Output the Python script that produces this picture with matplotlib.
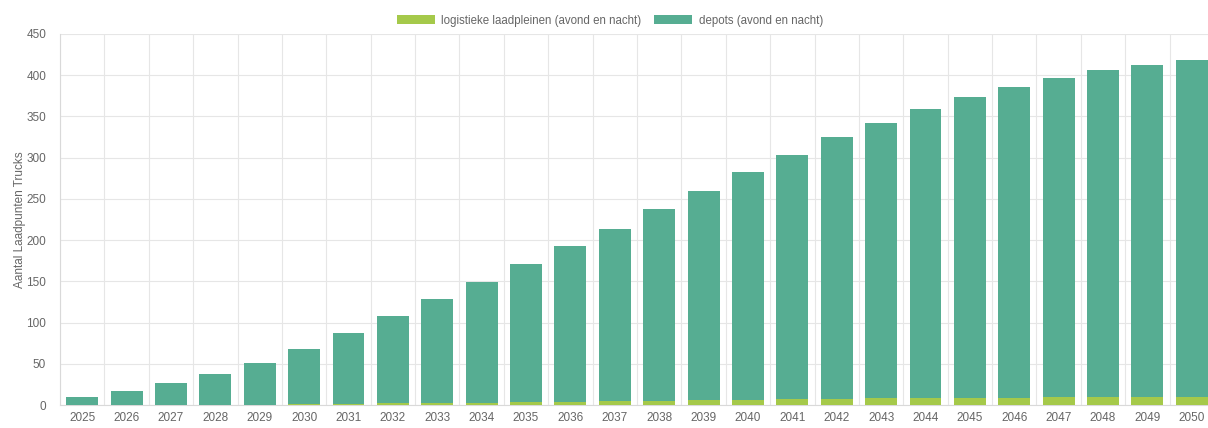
import matplotlib.pyplot as plt
import numpy as np

# === DATA ===
years = [str(y) for y in range(2025, 2051)]
totals = [10, 17, 27, 38, 51, 68, 87, 108, 129, 149, 171, 193, 213, 238, 260,
          283, 303, 325, 342, 359, 374, 386, 397, 406, 413, 418]
logistiek = [0, 0, 0, 0, 0.5, 1, 1.5, 2, 2.5, 3, 3.5, 4, 4.5, 5, 5.5,
             6.5, 7, 7.5, 8, 8.5, 9, 9, 9.5, 9.5, 10, 10]
depots = [t - g for t, g in zip(totals, logistiek)]

GREEN = '#a5c94a'
TEAL = '#56ad92'
TEXT = '#666666'

plt.rcParams['font.family'] = ['Liberation Sans', 'DejaVu Sans']

fig = plt.figure(figsize=(12.08, 4.28), dpi=100)
ax = fig.add_axes([60 / 1208, 23 / 428, 1154 / 1208, 371 / 428])

x = np.arange(len(years))
ax.bar(x, logistiek, width=0.72, color=GREEN, label='logistieke laadpleinen (avond en nacht)', zorder=3)
ax.bar(x, depots, width=0.72, bottom=logistiek, color=TEAL, label='depots (avond en nacht)', zorder=3)

# === AXES AND STYLING ===
ax.set_xlim(-0.5, len(years) - 0.5)
ax.set_ylim(0, 450)
ax.set_yticks(range(0, 451, 50))
ax.set_xticks(x)
ax.set_xticklabels(years)
ax.set_xticks(np.arange(-0.5, len(years), 1), minor=True)

ax.grid(True, axis='y', color='#e6e6e6', linewidth=0.8, zorder=0)
ax.grid(True, axis='x', which='minor', color='#e6e6e6', linewidth=0.8, zorder=0)
for s in ['top', 'right']:
    ax.spines[s].set_visible(False)
ax.spines['left'].set_color('#d9d9d9')
ax.spines['bottom'].set_color('#d9d9d9')
ax.tick_params(axis='both', which='both', length=0, colors=TEXT, labelsize=8.5)
ax.tick_params(axis='y', pad=10)
ax.tick_params(axis='x', pad=5)

ax.set_ylabel('Aantal Laadpunten Trucks', fontsize=8.5, color=TEXT, labelpad=0.5)

fig.legend(loc='upper center', bbox_to_anchor=(610 / 1208, 0.99), ncol=2, frameon=False,
           fontsize=8.3, handlelength=3.3, handleheight=0.9, columnspacing=1.1,
           handletextpad=0.6, labelcolor=TEXT)

fig.savefig('out.png', dpi=100)
